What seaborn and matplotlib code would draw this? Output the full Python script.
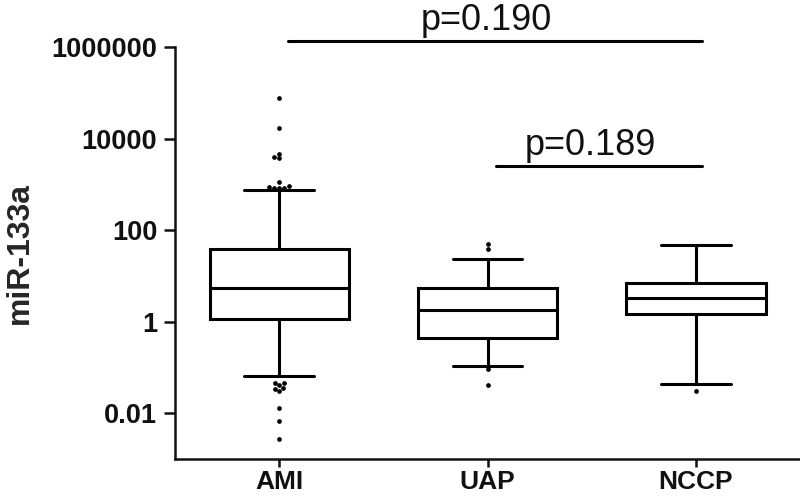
import matplotlib
matplotlib.use("Agg")
import matplotlib.pyplot as plt
import seaborn as sns
import pandas as pd

# groups on the x axis
groups = ["AMI", "UAP", "NCCP"]

# five-number summary per group: lower whisker, Q1, median, Q3, upper whisker
ami_box = [0.064, 1.15, 5.5, 39, 770]
uap_box = [0.11, 0.44, 1.8, 5.5, 23]
nccp_box = [0.043, 1.5, 3.3, 7.0, 48]

# points outside the whiskers
ami_out = [76000, 16600, 4700, 3700, 3900, 1150, 930, 840, 840, 840, 870,
           0.045, 0.045, 0.035, 0.030, 0.033, 0.041, 0.013, 0.0066, 0.0028]
uap_out = [39, 50, 0.091, 0.041]
nccp_out = [0.030]

# y ticks
y_ticks = [0.01, 1, 100, 10000, 1000000]
y_labels = ["0.01", "1", "100", "10000", "1000000"]

# comparison bars: (start group, end group, p text)
comparisons = [("AMI", "NCCP", "p=0.190"), ("UAP", "NCCP", "p=0.189")]
comp_heights = [1.35e6, 2570]

box_df = pd.DataFrame({
    "group": ["AMI"] * 5 + ["UAP"] * 5 + ["NCCP"] * 5,
    "value": ami_box + uap_box + nccp_box,
})
out_df = pd.DataFrame({
    "group": ["AMI"] * len(ami_out) + ["UAP"] * len(uap_out) + ["NCCP"] * len(nccp_out),
    "value": ami_out + uap_out + nccp_out,
})

sns.set_style("ticks")
plt.rcParams["font.family"] = ["Liberation Sans", "DejaVu Sans"]

fig = plt.figure(figsize=(8, 5), dpi=100)
ax = fig.add_axes([0.219, 0.082, 0.781, 0.824])

lw = 2.2
# whis=(0, 100) with 5 points -> whiskers/quartiles are exactly the listed numbers
sns.boxplot(data=box_df, x="group", y="value", order=groups, ax=ax,
            whis=(0, 100), showfliers=False, width=0.67, color="white",
            linecolor="black", linewidth=lw, log_scale=True,
            medianprops={"linewidth": lw})
sns.swarmplot(data=out_df, x="group", y="value", order=groups, ax=ax,
              color="black", size=3.4, log_scale=True)

ax.set_ylim(0.001, 1000000)
ax.set_xlim(-0.5, 2.5)
ax.set_yticks(y_ticks)
ax.set_yticklabels(y_labels)
ax.yaxis.set_minor_locator(matplotlib.ticker.NullLocator())

for lab in ax.get_yticklabels() + ax.get_xticklabels():
    lab.set_fontweight("bold")
ax.tick_params(axis="y", labelsize=19.5, length=8, width=1.8, pad=5, colors="#111111")
ax.tick_params(axis="x", labelsize=19, length=6, width=1.8, pad=2, colors="#111111")

ax.set_xlabel("")
ax.set_ylabel("miR-133a", fontsize=23, fontweight="bold", labelpad=12)

sns.despine(ax=ax)
for s in ["left", "bottom"]:
    ax.spines[s].set_linewidth(1.8)
    ax.spines[s].set_color("#111111")

# significance bars
for (g1, g2, txt), h in zip(comparisons, comp_heights):
    x1 = groups.index(g1) + 0.04
    x2 = groups.index(g2) + 0.03
    ax.plot([x1, x2], [h, h], color="black", linewidth=2.2, clip_on=False)
    xm = (x1 + x2) / 2 - 0.04
    ax.annotate(txt, xy=(xm, h), xytext=(0, 2), textcoords="offset points",
                ha="center", va="bottom", fontsize=26, color="#111111",
                annotation_clip=False)

fig.savefig("out.png", dpi=100)
